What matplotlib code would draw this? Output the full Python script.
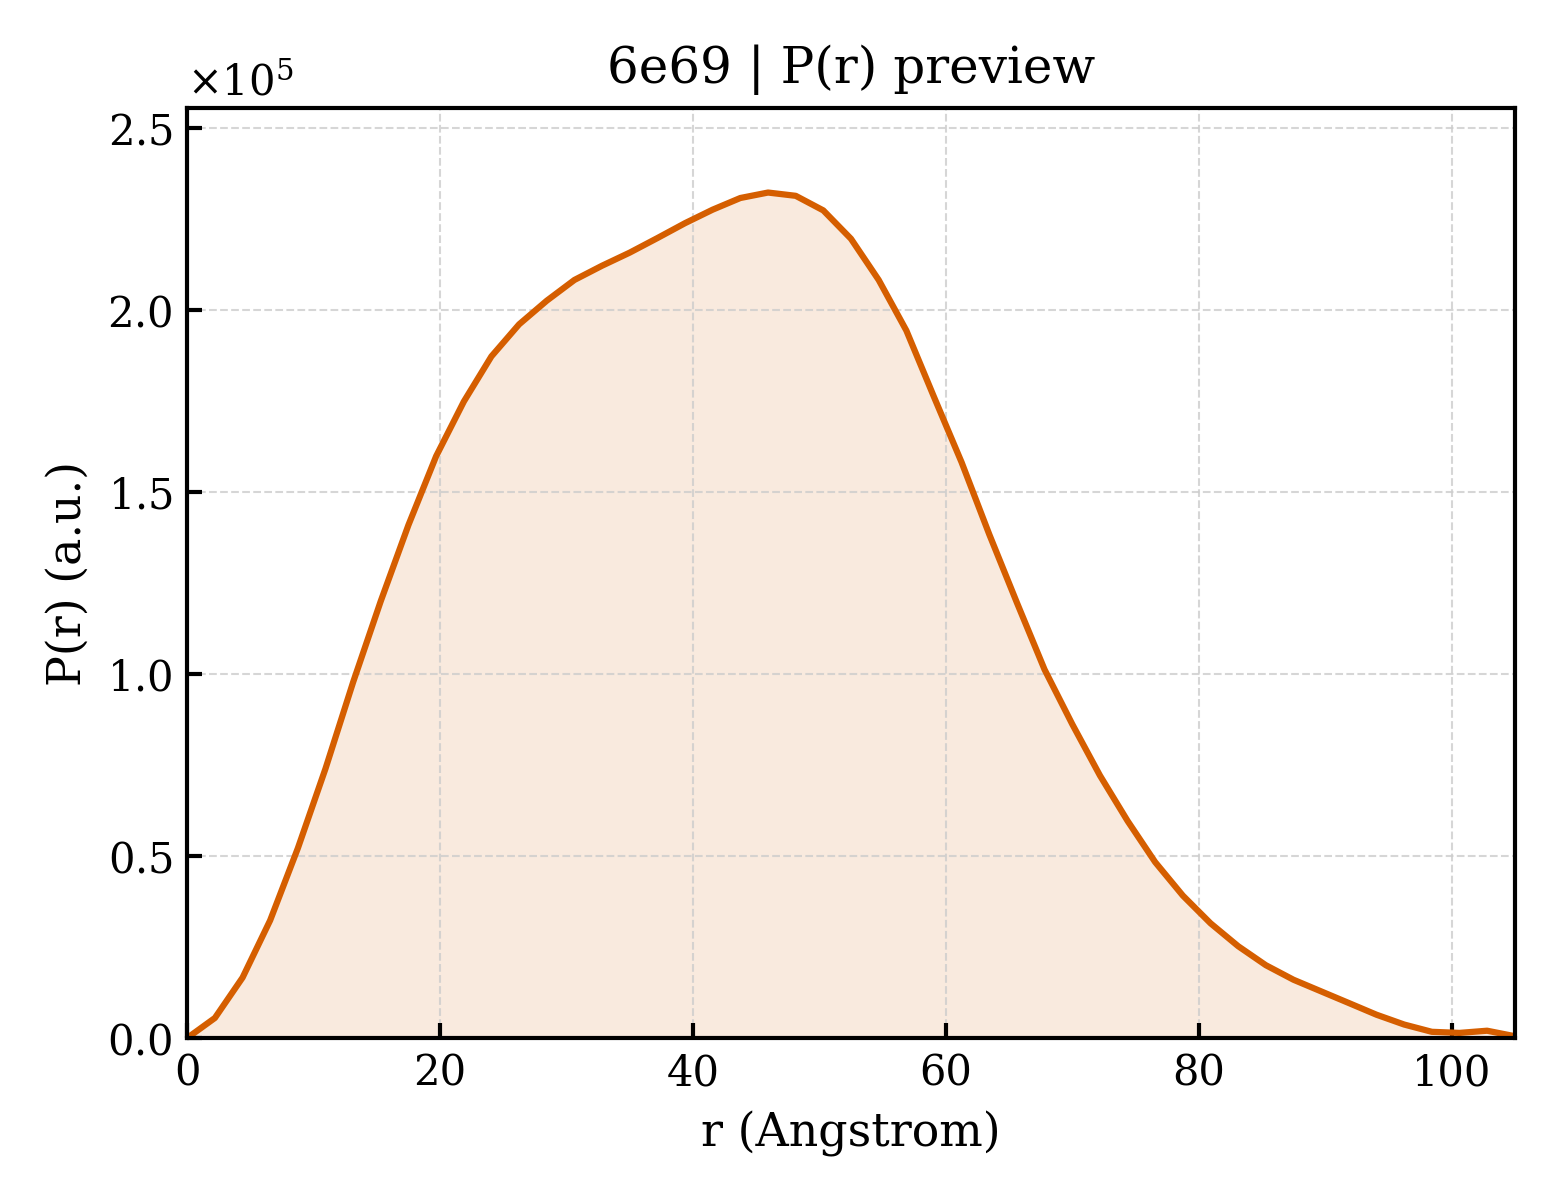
import numpy as np
import matplotlib
matplotlib.use('Agg')
import matplotlib.pyplot as plt

r_angstrom = [0.0, 2.19, 4.38, 6.56, 8.75, 10.94, 13.13, 15.31, 17.5, 19.69,
              21.88, 24.06, 26.25, 28.44, 30.63, 32.81, 35.0, 37.19, 39.38, 41.56,
              43.75, 45.94, 48.13, 50.31, 52.5, 54.69, 56.88, 59.06, 61.25, 63.44,
              65.63, 67.81, 70.0, 72.19, 74.38, 76.56, 78.75, 80.94, 83.13, 85.31,
              87.5, 89.69, 91.88, 94.06, 96.25, 98.44, 100.63, 102.81, 105.0]

p_r = [0, 5500, 16600, 32300, 52100, 74000, 97800, 120000, 140900, 159800,
       174800, 187200, 196000, 202500, 208200, 212100, 215700, 219700, 223800, 227500,
       230700, 232200, 231300, 227300, 219500, 208200, 194300, 176100, 158100, 138300,
       119500, 101200, 86200, 72100, 59600, 48300, 39100, 31500, 25200, 20000,
       16000, 12800, 9600, 6400, 3700, 1700, 1400, 2000, 500]

titulo = '6e69 | P(r) preview'
cor = '#D55E00'

plt.rcParams['font.family'] = 'DejaVu Serif'
plt.rcParams['mathtext.fontset'] = 'dejavuserif'

fig, ax = plt.subplots(figsize=(5.2, 4), dpi=300)
fig.subplots_adjust(left=0.12, right=0.971, bottom=0.135, top=0.91)

ax.fill_between(r_angstrom, p_r, color=cor, alpha=0.13, linewidth=0)
ax.plot(r_angstrom, p_r, color=cor, linewidth=1.5)

ax.set_xlim(0, max(r_angstrom))
ax.set_ylim(0, max(p_r) * 1.1)

ax.set_title(titulo, fontsize=12)
ax.set_xlabel('r (Angstrom)', fontsize=11)
ax.set_ylabel('P(r) (a.u.)', fontsize=11)

ax.ticklabel_format(axis='y', style='sci', scilimits=(0, 0), useMathText=True)
ax.yaxis.get_offset_text().set_fontsize(10)
ax.tick_params(direction='in', labelsize=10, length=3.5, width=1)
ax.grid(True, linestyle='--', linewidth=0.5, color='#cccccc', alpha=0.8)
for s in ax.spines.values():
    s.set_linewidth(1.0)

plt.savefig('out.png', dpi=300)
